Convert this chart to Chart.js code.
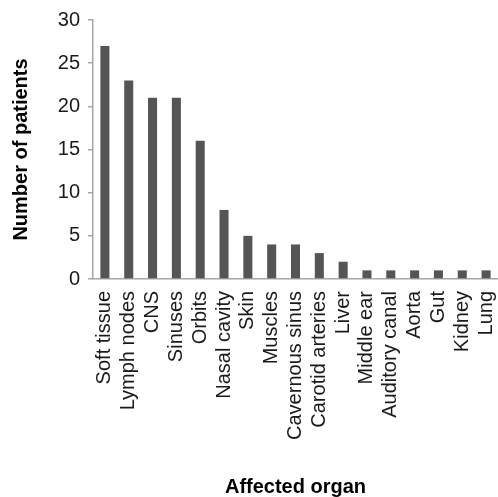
<!DOCTYPE html>
<html>
<head>
<meta charset="utf-8">
<script src="https://cdn.jsdelivr.net/npm/chart.js@4"></script>
<style>
  html, body { margin: 0; padding: 0; background: #ffffff; }
  #wrap { width: 498px; height: 497px; position: relative; }
</style>
</head>
<body>
<div id="wrap"><canvas id="c"></canvas></div>
<script>
const categories = ["Soft tissue", "Lymph nodes", "CNS", "Sinuses", "Orbits", "Nasal cavity", "Skin", "Muscles", "Cavernous sinus", "Carotid arteries", "Liver", "Middle ear", "Auditory canal", "Aorta", "Gut", "Kidney", "Lung"];
const patients = [27, 23, 21, 21, 16, 8, 5, 4, 4, 3, 2, 1, 1, 1, 1, 1, 1];
const yTicks = [0, 5, 10, 15, 20, 25, 30];
const yTitle = "Number of patients";
const xTitle = "Affected organ";

const FONT = "'Liberation Sans', Arial, Helvetica, sans-serif";
const AXIS = "#a6a6a6";

new Chart(document.getElementById('c'), {
  type: 'bar',
  data: {
    labels: categories,
    datasets: [{
      data: patients,
      backgroundColor: '#555555',
      borderWidth: 0,
      categoryPercentage: 1,
      barPercentage: 0.38
    }]
  },
  options: {
    responsive: true,
    maintainAspectRatio: false,
    animation: false,
    devicePixelRatio: 1,
    layout: { padding: { top: 20, right: 0, bottom: 0, left: 0 } },
    plugins: { legend: { display: false }, tooltip: { enabled: false } },
    scales: {
      x: {
        offset: true,
        grid: { display: true, drawOnChartArea: false, drawTicks: false, color: AXIS },
        border: { display: true, color: AXIS, width: 1.5 },
        ticks: {
          autoSkip: false, maxRotation: 90, minRotation: 90, padding: 12,
          color: '#1a1a1a', font: { family: FONT, size: 20 }
        },
        title: {
          display: true, text: xTitle, color: '#000',
          font: { family: FONT, size: 20, weight: 'bold', lineHeight: 1 },
          padding: { top: 0, bottom: 0 }
        },
        afterFit: (s) => { s.height = 218; s.paddingLeft = 0; s.paddingRight = 0; }
      },
      y: {
        min: 0, max: 30,
        afterBuildTicks: (s) => { s.ticks = yTicks.map(v => ({ value: v })); },
        grid: { display: true, drawOnChartArea: false, drawTicks: true, tickLength: 5, color: AXIS, lineWidth: 1.5 },
        border: { display: true, color: AXIS, width: 1.5 },
        ticks: { padding: 8, color: '#1a1a1a', font: { family: FONT, size: 20 } },
        title: {
          display: true, text: yTitle, color: '#000',
          font: { family: FONT, size: 20, weight: 'bold', lineHeight: 1 },
          padding: { top: 11, bottom: 0 }
        },
        afterFit: (s) => { s.width = 93; s.paddingTop = 0; s.paddingBottom = 0; }
      }
    }
  }
});
</script>
</body>
</html>
